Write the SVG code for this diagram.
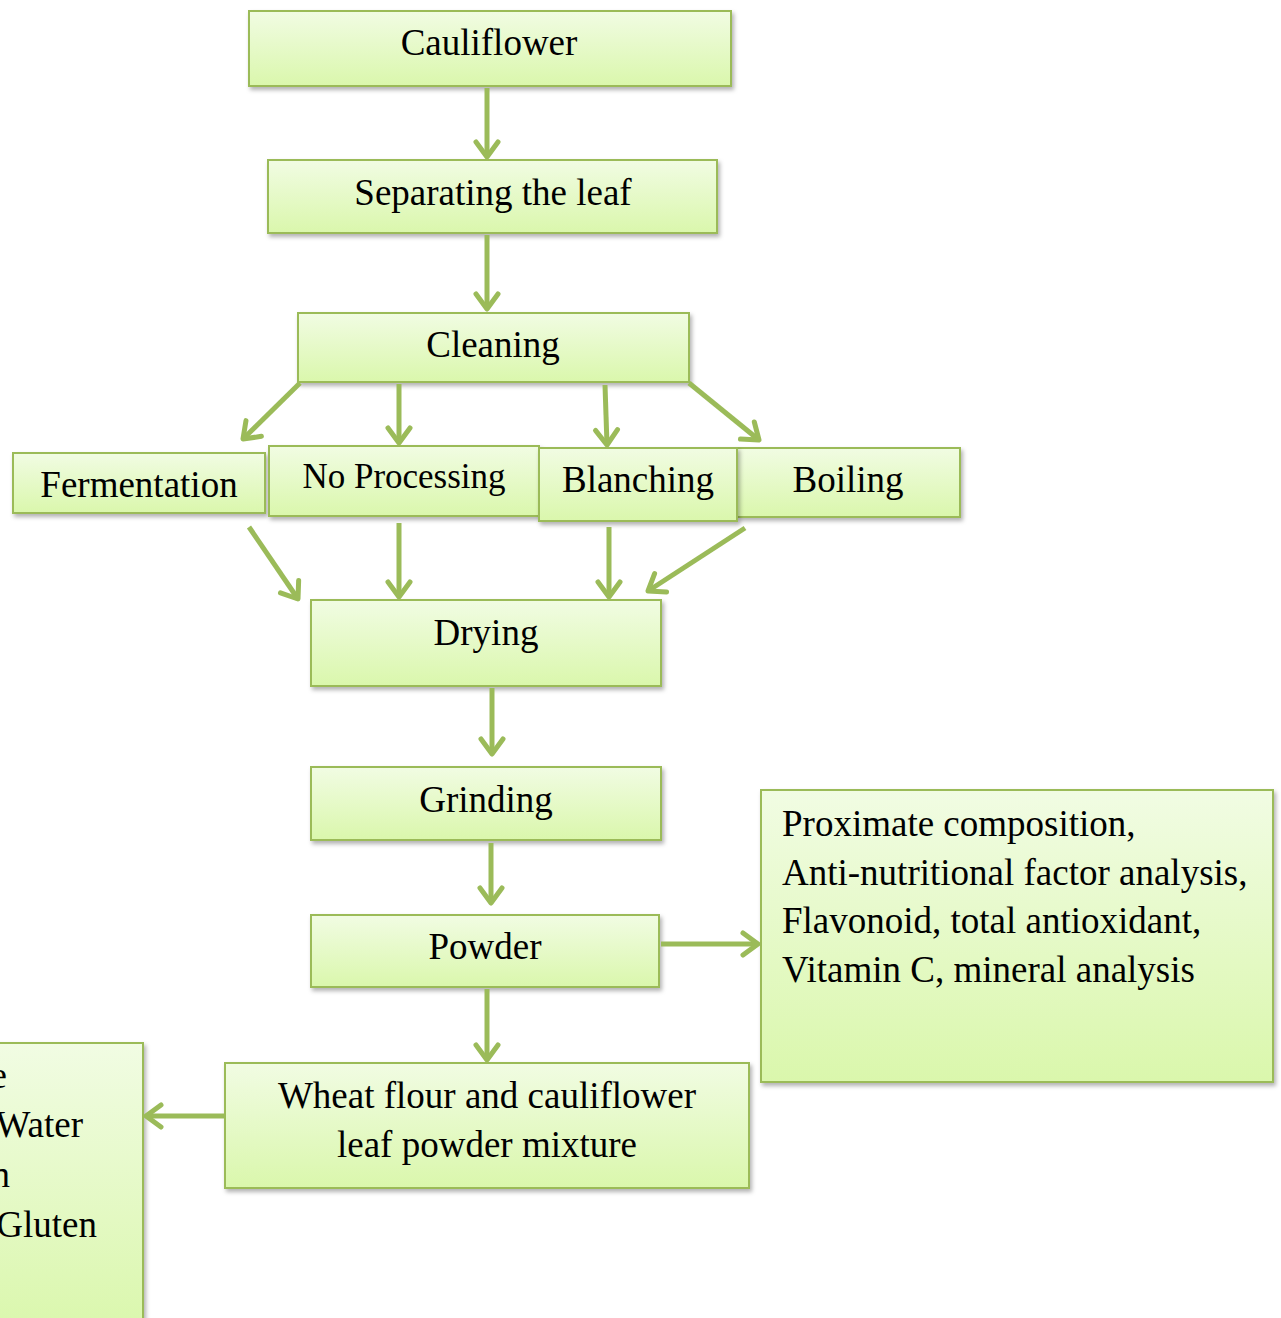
<svg xmlns="http://www.w3.org/2000/svg" width="1281" height="1318" viewBox="0 0 1281 1318">
<defs>
<linearGradient id="g" x1="0" y1="0" x2="0" y2="1">
<stop offset="0" stop-color="#f1fce3"/>
<stop offset="1" stop-color="#daf7ac"/>
</linearGradient>
<filter id="sh" x="-10%" y="-10%" width="125%" height="140%">
<feDropShadow dx="2" dy="3" stdDeviation="2" flood-color="#000" flood-opacity="0.3"/>
</filter>
<marker id="ah" viewBox="-20 -15 25 30" refX="0" refY="0" markerWidth="25" markerHeight="30" markerUnits="userSpaceOnUse" orient="auto">
<path d="M-15,-11 L0,0 L-15,11" fill="none" stroke="#9bbb59" stroke-width="5" stroke-linecap="round" stroke-linejoin="round"/>
</marker>
</defs>
<style>
.box{fill:url(#g);stroke:#9bbb59;stroke-width:2;filter:url(#sh)}
.t{font-family:"Liberation Serif","Times New Roman",serif;font-size:37px;fill:#000}
.c{text-anchor:middle}
.e{text-anchor:end}
.conn line{stroke:#9bbb59;stroke-width:5;marker-end:url(#ah)}
</style>
<rect width="1281" height="1318" fill="#fff"/>
<g id="n-cauliflower"><rect class="box" x="249" y="11" width="482" height="75"/><text class="t c" x="489" y="55">Cauliflower</text></g>
<g id="n-separating"><rect class="box" x="268" y="160" width="449" height="73"/><text class="t c" x="493" y="205">Separating the leaf</text></g>
<g id="n-cleaning"><rect class="box" x="298" y="313" width="391" height="69"/><text class="t c" x="493" y="357">Cleaning</text></g>
<g id="n-fermentation"><rect class="box" x="13" y="453" width="252" height="60"/><text class="t c" x="139" y="497">Fermentation</text></g>
<g id="n-noprocessing"><rect class="box" x="269" y="446" width="270" height="70"/><text class="t c" x="404" y="488" style="font-size:35px">No Processing</text></g>
<g id="n-boiling"><rect class="box" x="737" y="448" width="223" height="69"/><text class="t c" x="848" y="492">Boiling</text></g>
<g id="n-blanching"><rect class="box" x="539" y="448" width="198" height="73"/><text class="t c" x="638" y="492">Blanching</text></g>
<g id="n-drying"><rect class="box" x="311" y="600" width="350" height="86"/><text class="t c" x="486" y="645">Drying</text></g>
<g id="n-grinding"><rect class="box" x="311" y="767" width="350" height="73"/><text class="t c" x="486" y="812">Grinding</text></g>
<g id="n-powder"><rect class="box" x="311" y="915" width="348" height="72"/><text class="t c" x="485" y="959">Powder</text></g>
<g id="n-mixture"><rect class="box" x="225" y="1063" width="524" height="125"/><text class="t c" x="487" y="1108">Wheat flour and cauliflower</text><text class="t c" x="487" y="1157">leaf powder mixture</text></g>
<g id="n-analysis"><rect class="box" x="761" y="790" width="512" height="292"/><text class="t" x="782" y="836">Proximate composition,</text><text class="t" x="782" y="885">Anti-nutritional factor analysis,</text><text class="t" x="782" y="933">Flavonoid, total antioxidant,</text><text class="t" x="782" y="982">Vitamin C, mineral analysis</text></g>
<g id="n-left"><rect class="box" x="-10" y="1043" width="153" height="290"/><text class="t e" x="7" y="1088">e</text><text class="t e" x="83" y="1137">Water</text><text class="t e" x="10" y="1187">n</text><text class="t e" x="97" y="1237">Gluten</text></g>
<g id="connectors" class="conn">
<line x1="487" y1="88" x2="487" y2="157"/>
<line x1="487" y1="235" x2="487" y2="309"/>
<line x1="300" y1="383" x2="243" y2="439"/>
<line x1="399" y1="384" x2="399" y2="443"/>
<line x1="605" y1="385" x2="607" y2="445"/>
<line x1="689" y1="383" x2="759" y2="440"/>
<line x1="249" y1="527" x2="298" y2="599"/>
<line x1="399" y1="523" x2="399" y2="597"/>
<line x1="609" y1="527" x2="609" y2="597"/>
<line x1="745" y1="528" x2="648" y2="591"/>
<line x1="492" y1="688" x2="492" y2="754"/>
<line x1="491" y1="843" x2="491" y2="903"/>
<line x1="661" y1="944" x2="758" y2="944"/>
<line x1="487" y1="989" x2="487" y2="1060"/>
<line x1="225" y1="1116" x2="146" y2="1116"/>
</g>
</svg>
